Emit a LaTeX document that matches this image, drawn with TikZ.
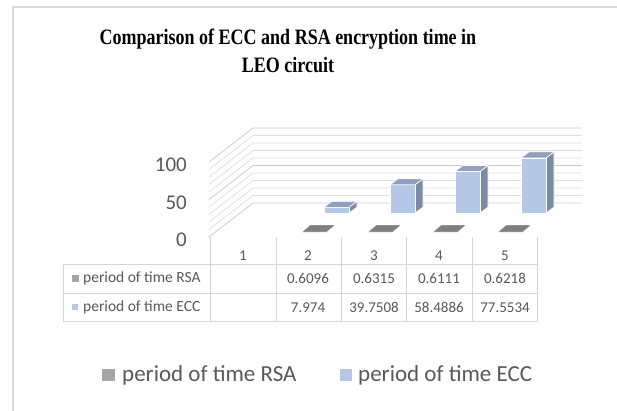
\documentclass[tikz,border=0pt]{standalone}
\usepackage{fontspec}
\setmainfont{Carlito}
\newfontfamily\titlefont{Liberation Serif}
\begin{document}
\begin{tikzpicture}[x=1pt,y=-1pt,
  grid/.style={draw=black!13,line width=0.7pt},
  gridmaj/.style={draw=black!20,line width=0.8pt},
  tbl/.style={draw=black!17,line width=0.8pt},
  lbl/.style={text=black!65,font=\fontsize{15}{17}\selectfont,inner sep=0pt},
  rowl/.style={text=black!65,font=\fontsize{15.5}{17}\selectfont,inner sep=0pt,anchor=west},
  axl/.style={text=black!65,font=\fontsize{21}{23}\selectfont,inner sep=0pt,anchor=east},
  leg/.style={text=black!65,font=\fontsize{23}{25}\selectfont,inner sep=0pt,anchor=west},
  eccfront/.style={fill=eccF,draw=white,line width=0.6pt},
  eccside/.style={fill=eccS,draw=white,line width=0.6pt},
  ecctop/.style={fill=eccT,draw=white,line width=0.6pt},
  rsatop/.style={fill=rsaT,draw=white,line width=0.4pt}]
\definecolor{eccF}{HTML}{B4C7E7}
\definecolor{eccS}{HTML}{7A8BA6}
\definecolor{eccT}{HTML}{8FA1C0}
\definecolor{rsaT}{HTML}{7F7F7F}
\definecolor{rsaL}{HTML}{A5A5A5}
\useasboundingbox (0,0) rectangle (617,410);
\fill[white] (0,0) rectangle (617,410);
% frame
\draw[draw=black!15,line width=2pt] (13,420) -- (13,7) -- (630,7);
% title
\node[font=\titlefont\bfseries\fontsize{18}{22.5}\selectfont,align=center,yscale=1.22] (title) at (288,51)
  {Comparison of ECC and RSA encryption time in\\LEO circuit};
% gridlines
\foreach \v in {10,20,30,40,60,70,80,90}{
  \draw[grid] (209,{237-0.75*\v}) -- (253,{203-0.75*\v}) -- (582,{203-0.75*\v});
}
\foreach \v in {0,50,100}{
  \draw[gridmaj] (209,{237-0.75*\v}) -- (253,{203-0.75*\v}) -- (582,{203-0.75*\v});
}
% axis labels
\node[axl] (a100) at (187,165) {100};
\node[axl] (a50) at (187,203) {50};
\node[axl] (a0) at (187,240) {0};
% table
\draw[tbl] (63,264) rectangle (537,321);
\draw[tbl] (63,293) -- (537,293);
\foreach \x in {210,276,341,406,472}{
  \draw[tbl] (\x,237) -- (\x,321);
}
\draw[tbl] (537,237) -- (537,321);
\foreach \i/\x in {1/243,2/308,3/374,4/439,5/505}{
  \node[lbl] (h\i) at (\x,256) {\i};
}
\fill[rsaL] (72,275) rectangle (79,282);
\node[rowl] (rRSA) at (83,278.5) {period of time RSA};
\fill[eccF] (72,304) rectangle (78,310);
\node[rowl] (rECC) at (83,307.5) {period of time ECC};
\foreach \i/\x/\r/\e in {2/308/0.6096/7.974,3/374/0.6315/39.7508,4/439/0.6111/58.4886,5/505/0.6218/77.5534}{
  \node[lbl] (r\i) at (\x,278.5) {\r};
  \node[lbl] (e\i) at (\x,307.5) {\e};
}
% RSA flat bars
\foreach \x in {302,368,433,498}{
  \draw[rsatop] (\x,232) -- ({\x+25},232) -- ({\x+33},225) -- ({\x+8},225) -- cycle;
}
% ECC bars
\foreach \x/\v in {324/7.974,390/39.7508,455/58.4886,521/77.5534}{
  \pgfmathsetmacro{\tp}{213-0.71*\v}
  \draw[eccside] ({\x+25},213) -- ({\x+33},207) -- ({\x+33},{\tp-6}) -- ({\x+25},\tp) -- cycle;
  \draw[eccfront] (\x,213) rectangle ({\x+25},\tp);
  \draw[ecctop] (\x,\tp) -- ({\x+25},\tp) -- ({\x+33},{\tp-6}) -- ({\x+8},{\tp-6}) -- cycle;
}
% legend
\fill[rsaL] (102,369) rectangle (115,381);
\node[leg] (lRSA) at (122,375) {period of time RSA};
\fill[eccF] (340,369) rectangle (352,381);
\node[leg] (lECC) at (358,375) {period of time ECC};
\end{tikzpicture}
\end{document}
